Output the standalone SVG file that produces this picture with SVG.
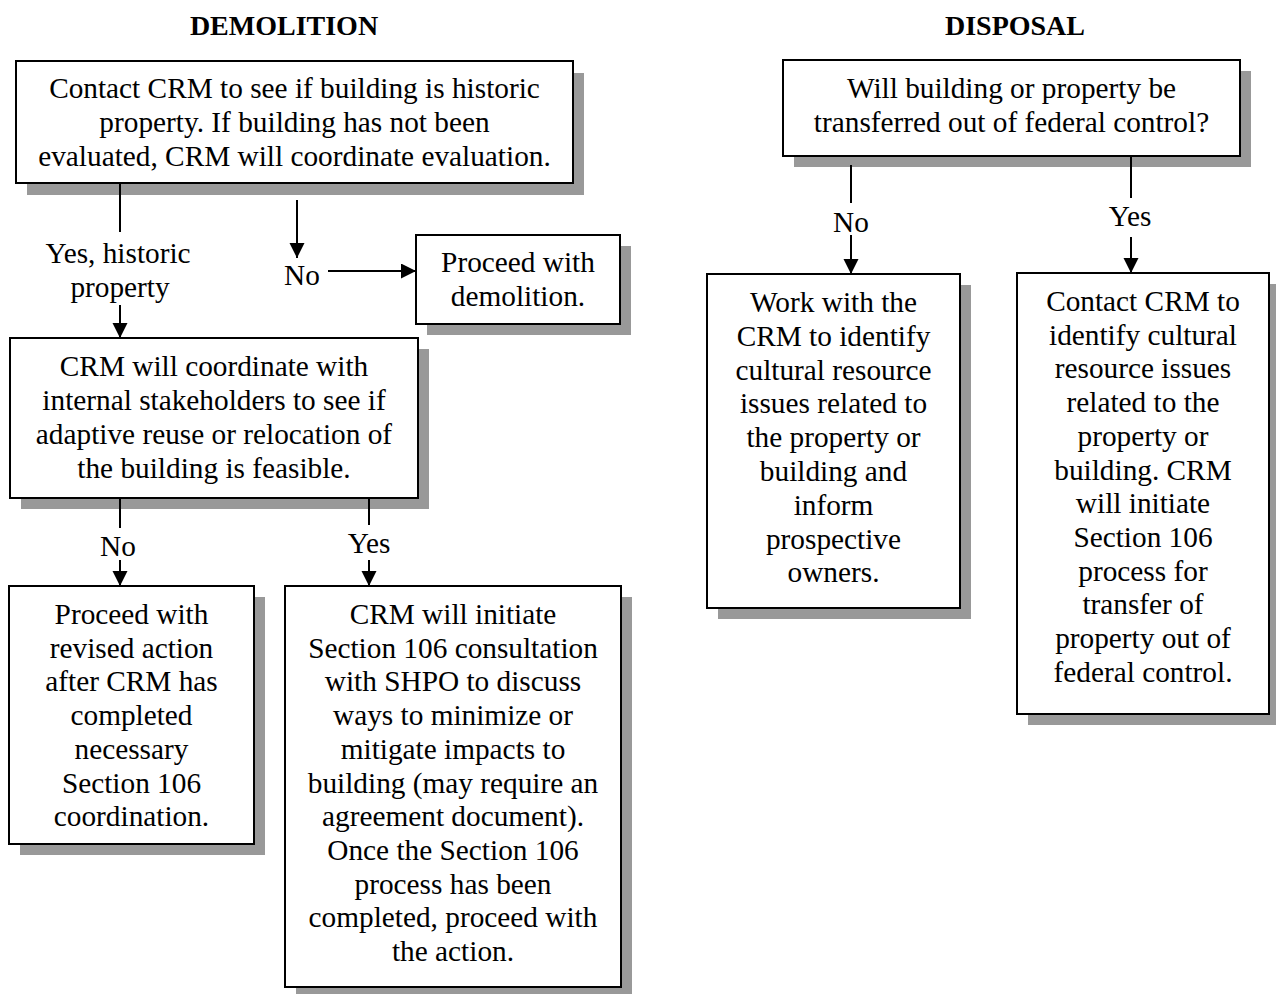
<svg xmlns="http://www.w3.org/2000/svg" width="1276" height="994" viewBox="0 0 1276 994">
<style>
.t{font-family:"Liberation Serif","Times New Roman",serif;font-size:29.3px;fill:#000;text-anchor:middle}
.h{font-family:"Liberation Serif","Times New Roman",serif;font-size:28px;font-weight:bold;fill:#000;text-anchor:middle}
.box{fill:#fff;stroke:#000;stroke-width:2}
.sh{fill:#999}
.c{stroke:#000;stroke-width:2;fill:none}
.a{marker-end:url(#ah)}
</style>
<defs>
<marker id="ah" markerUnits="userSpaceOnUse" markerWidth="16" markerHeight="16" refX="15" refY="7.5" orient="auto">
<path d="M0,0 L15,7.5 L0,15 Z" fill="#000"/>
</marker>
</defs>
<rect width="1276" height="994" fill="#fff"/>
<text class="h" x="284" y="35">DEMOLITION</text>
<text class="h" x="1015" y="35">DISPOSAL</text>

<g id="n1">
<rect class="sh" x="27" y="73" width="557" height="122"/>
<rect class="box" x="16" y="61" width="557" height="122"/>
<text class="t" x="294.5" y="98">Contact CRM to see if building is historic</text>
<text class="t" x="294.5" y="132">property. If building has not been</text>
<text class="t" x="294.5" y="166">evaluated, CRM will coordinate evaluation.</text>
</g>

<g id="n2">
<rect class="sh" x="427" y="246" width="204" height="89"/>
<rect class="box" x="416" y="235" width="204" height="89"/>
<text class="t" x="518" y="272">Proceed with</text>
<text class="t" x="518" y="306">demolition.</text>
</g>

<g id="n3">
<rect class="sh" x="21" y="349" width="408" height="160"/>
<rect class="box" x="10" y="338" width="408" height="160"/>
<text class="t" x="214" y="376">CRM will coordinate with</text>
<text class="t" x="214" y="410">internal stakeholders to see if</text>
<text class="t" x="214" y="444">adaptive reuse or relocation of</text>
<text class="t" x="214" y="478">the building is feasible.</text>
</g>

<g id="n4">
<rect class="sh" x="20" y="597" width="245" height="258"/>
<rect class="box" x="9" y="586" width="245" height="258"/>
<text class="t" x="131.5" y="624">Proceed with</text>
<text class="t" x="131.5" y="657.7">revised action</text>
<text class="t" x="131.5" y="691.4">after CRM has</text>
<text class="t" x="131.5" y="725.1">completed</text>
<text class="t" x="131.5" y="758.8">necessary</text>
<text class="t" x="131.5" y="792.5">Section 106</text>
<text class="t" x="131.5" y="826.2">coordination.</text>
</g>

<g id="n5">
<rect class="sh" x="296" y="597" width="336" height="401"/>
<rect class="box" x="285" y="586" width="336" height="401"/>
<text class="t" x="453" y="624">CRM will initiate</text>
<text class="t" x="453" y="657.7">Section 106 consultation</text>
<text class="t" x="453" y="691.4">with SHPO to discuss</text>
<text class="t" x="453" y="725.1">ways to minimize or</text>
<text class="t" x="453" y="758.8">mitigate impacts to</text>
<text class="t" x="453" y="792.5">building (may require an</text>
<text class="t" x="453" y="826.2">agreement document).</text>
<text class="t" x="453" y="859.9">Once the Section 106</text>
<text class="t" x="453" y="893.6">process has been</text>
<text class="t" x="453" y="927.3">completed, proceed with</text>
<text class="t" x="453" y="961">the action.</text>
</g>

<g id="n6">
<rect class="sh" x="794" y="71" width="457" height="96"/>
<rect class="box" x="783" y="60" width="457" height="96"/>
<text class="t" x="1011.5" y="98">Will building or property be</text>
<text class="t" x="1011.5" y="132">transferred out of federal control?</text>
</g>

<g id="n7">
<rect class="sh" x="718" y="285" width="253" height="334"/>
<rect class="box" x="707" y="274" width="253" height="334"/>
<text class="t" x="833.5" y="312">Work with the</text>
<text class="t" x="833.5" y="345.8">CRM to identify</text>
<text class="t" x="833.5" y="379.6">cultural resource</text>
<text class="t" x="833.5" y="413.4">issues related to</text>
<text class="t" x="833.5" y="447.2">the property or</text>
<text class="t" x="833.5" y="481">building and</text>
<text class="t" x="833.5" y="514.8">inform</text>
<text class="t" x="833.5" y="548.6">prospective</text>
<text class="t" x="833.5" y="582.4">owners.</text>
</g>

<g id="n8">
<rect class="sh" x="1028" y="284" width="252" height="441"/>
<rect class="box" x="1017" y="273" width="252" height="441"/>
<text class="t" x="1143" y="311">Contact CRM to</text>
<text class="t" x="1143" y="344.7">identify cultural</text>
<text class="t" x="1143" y="378.4">resource issues</text>
<text class="t" x="1143" y="412.1">related to the</text>
<text class="t" x="1143" y="445.8">property or</text>
<text class="t" x="1143" y="479.5">building. CRM</text>
<text class="t" x="1143" y="513.2">will initiate</text>
<text class="t" x="1143" y="546.9">Section 106</text>
<text class="t" x="1143" y="580.6">process for</text>
<text class="t" x="1143" y="614.3">transfer of</text>
<text class="t" x="1143" y="648">property out of</text>
<text class="t" x="1143" y="681.7">federal control.</text>
</g>

<g id="connectors">
<path class="c" d="M120,183 V232"/>
<path class="c a" d="M120,305 V338"/>
<path class="c a" d="M297,200 V258"/>
<path class="c a" d="M328,271 H416"/>
<path class="c" d="M120,498 V528"/>
<path class="c a" d="M120,560 V586"/>
<path class="c" d="M369,498 V525"/>
<path class="c a" d="M369,560 V586"/>
<path class="c" d="M851,165 V203"/>
<path class="c a" d="M851,235 V274"/>
<path class="c" d="M1131,156 V198"/>
<path class="c a" d="M1131,237 V273"/>
<text class="t" x="118" y="263">Yes, historic</text>
<text class="t" x="120" y="297">property</text>
<text class="t" x="302" y="285">No</text>
<text class="t" x="118" y="556">No</text>
<text class="t" x="369" y="553">Yes</text>
<text class="t" x="851" y="232">No</text>
<text class="t" x="1130" y="226">Yes</text>
</g>
</svg>
